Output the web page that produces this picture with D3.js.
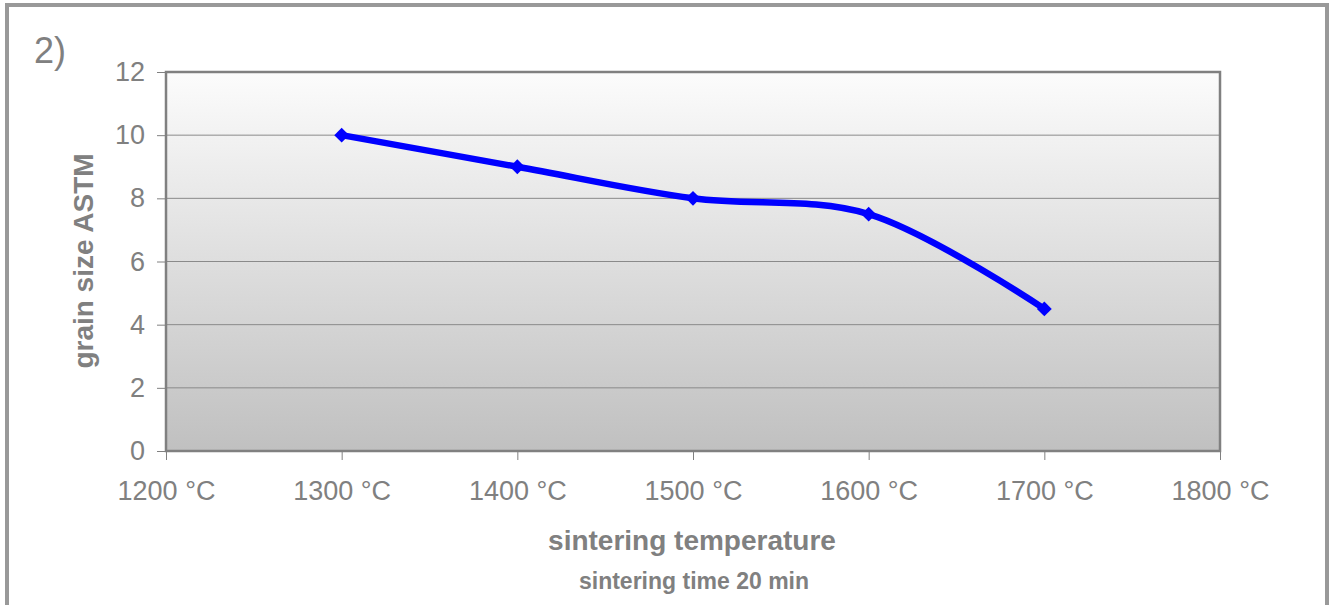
<!DOCTYPE html>
<html><head><meta charset="utf-8">
<script src="https://cdn.jsdelivr.net/npm/d3@7"></script>
<style>html,body{margin:0;padding:0;background:#fff;}svg{display:block;font-family:"Liberation Sans",Arial,sans-serif;}</style>
</head><body>
<script>
const temperatures = [1300, 1400, 1500, 1600, 1700];
const grainSize = [10, 9, 8, 7.5, 4.5];
const xTicks = [1200, 1300, 1400, 1500, 1600, 1700, 1800];
const yTicks = [0, 2, 4, 6, 8, 10, 12];

const W = 1332, H = 605;
const svg = d3.select("body").append("svg").attr("width", W).attr("height", H);

// outer frame
svg.append("rect").attr("x", 7).attr("y", 5).attr("width", 1320).attr("height", 640)
  .attr("fill", "#fff").attr("stroke", "#999").attr("stroke-width", 4);

const L = 166, R = 1220, T = 72, B = 451;
const x = d3.scaleLinear().domain([1200, 1800]).range([L, R]);
const y = d3.scaleLinear().domain([0, 12]).range([B, T]);

const defs = svg.append("defs");
const g = defs.append("linearGradient").attr("id", "bg").attr("x1", 0).attr("y1", 0).attr("x2", 0).attr("y2", 1);
g.append("stop").attr("offset", "0%").attr("stop-color", "#fcfcfc");
g.append("stop").attr("offset", "100%").attr("stop-color", "#c0c0c0");

svg.append("rect").attr("x", L).attr("y", T).attr("width", R - L).attr("height", B - T).attr("fill", "url(#bg)");

// gridlines
svg.append("g").selectAll("line").data(yTicks.filter(d => d > 0 && d < 12)).join("line")
  .attr("x1", L).attr("x2", R).attr("y1", d => y(d)).attr("y2", d => y(d))
  .attr("stroke", "#8a8a8a").attr("stroke-width", 1);

// plot border
svg.append("rect").attr("x", L).attr("y", T).attr("width", R - L).attr("height", B - T)
  .attr("fill", "none").attr("stroke", "#808080").attr("stroke-width", 2.5);

const tickFont = "27px";
// y axis
const yAxis = d3.axisLeft(y).tickValues(yTicks).tickSize(9).tickPadding(12);
const ya = svg.append("g").attr("transform", `translate(${L},0)`).call(yAxis);
ya.select(".domain").remove();
ya.selectAll(".tick line").attr("stroke", "#808080");
ya.selectAll(".tick text").attr("fill", "#808080").style("font-size", tickFont).attr("font-family", "Liberation Sans, Arial, sans-serif");

// x axis
const xAxis = d3.axisBottom(x).tickValues(xTicks).tickSize(9).tickPadding(21).tickFormat(d => d + " °C");
const xa = svg.append("g").attr("transform", `translate(0,${B})`).call(xAxis);
xa.select(".domain").remove();
xa.selectAll(".tick line").attr("stroke", "#808080");
xa.selectAll(".tick text").attr("fill", "#808080").style("font-size", tickFont).attr("font-family", "Liberation Sans, Arial, sans-serif");

// line
const pts = temperatures.map((t, i) => [t, grainSize[i]]);
const line = d3.line().x(d => x(d[0])).y(d => y(d[1])).curve(d3.curveCatmullRom.alpha(0.5));
svg.append("path").datum(pts).attr("d", line).attr("fill", "none")
  .attr("stroke", "#0000ff").attr("stroke-width", 6.5).attr("stroke-linejoin", "round");

svg.append("g").selectAll("path").data(pts).join("path")
  .attr("transform", d => `translate(${x(d[0])},${y(d[1])})`)
  .attr("d", d3.symbol(d3.symbolDiamond2, 140)())
  .attr("fill", "#0000ff");

// texts
svg.append("text").attr("x", 34).attr("y", 63).text("2)").attr("fill", "#808080").style("font-size", "36px");
svg.append("text").attr("x", 692).attr("y", 550).attr("text-anchor", "middle").text("sintering temperature")
  .attr("fill", "#808080").style("font-size", "28px").style("font-weight", "bold");
svg.append("text").attr("x", 694).attr("y", 589).attr("text-anchor", "middle").text("sintering time 20 min")
  .attr("fill", "#808080").style("font-size", "23px").style("font-weight", "bold");
svg.append("text").attr("transform", "translate(93,261) rotate(-90)").attr("text-anchor", "middle").text("grain size ASTM")
  .attr("fill", "#808080").style("font-size", "28px").style("font-weight", "bold");
</script>
</body></html>
